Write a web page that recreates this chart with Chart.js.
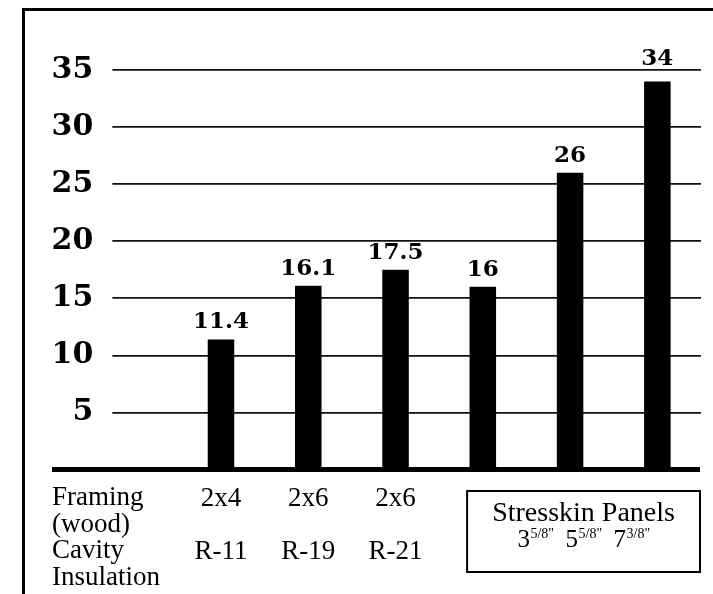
<!DOCTYPE html>
<html><head><meta charset="utf-8">
<script src="https://cdn.jsdelivr.net/npm/chart.js@4.4.0/dist/chart.umd.min.js"></script>
<style>
html,body{margin:0;padding:0;background:#fff;}
#wrap{position:relative;width:713px;height:594px;overflow:hidden;background:#fff;}
#frame{position:absolute;left:22px;top:8px;right:-10px;bottom:-10px;border-left:3px solid #000;border-top:3px solid #000;pointer-events:none;}
canvas{position:absolute;left:0;top:0;}
</style></head><body>
<div id="wrap"><canvas id="c" width="713" height="594"></canvas><div id="frame"></div></div>
<script>
const framing = ['2x4', '2x6', '2x6', '', '', ''];
const insulation = ['R-11', 'R-19', 'R-21', '', '', ''];
const values = [11.4, 16.1, 17.5, 16, 26, 34];
const yTicks = [0, 5, 10, 15, 20, 25, 30, 35];
const rowHeaders = ['Framing', '(wood)', 'Cavity', 'Insulation'];
const panelTitle = 'Stresskin Panels';
const panelSizes = [['3', '5/8"'], ['5', '5/8"'], ['7', '3/8"']];

const labels = framing.map((f, i) => [f, '', insulation[i]]);

const annot = {
  id: 'annot',
  afterDatasetsDraw(chart) {
    const { ctx, scales: { x, y } } = chart;
    const base = y.getPixelForValue(0);
    ctx.save();
    ctx.fillStyle = '#000';
    ctx.strokeStyle = '#000';
    // baseline
    ctx.fillRect(52, base - 2.5, x.right - 1 - 52, 5);
    // value labels
    const meta = chart.getDatasetMeta(0);
    const gridPx = yTicks.filter(v => v > 0).map(v => y.getPixelForValue(v));
    ctx.font = 'bold 23px "DejaVu Serif"';
    ctx.textAlign = 'center';
    ctx.textBaseline = 'alphabetic';
    meta.data.forEach((bar, i) => {
      let ly = bar.y - 11;
      gridPx.forEach(g => { if (ly >= g - 2 && ly <= g + 6) ly = g - 5; });
      ctx.fillText(String(values[i]), bar.x, ly);
    });
    // row headers
    ctx.font = '27px "Liberation Serif"';
    ctx.textAlign = 'left';
    rowHeaders.forEach((t, i) => ctx.fillText(t, 52, base + 35.5 + i * 26.5));
    // stresskin box
    const W = x.getPixelForValue(1) - x.getPixelForValue(0);
    const bl = x.getPixelForValue(3) - 0.18 * W, br = x.right - 1;
    const bt = base + 21.5, bb = base + 102.5;
    ctx.lineWidth = 2;
    ctx.strokeRect(bl, bt, br - bl, bb - bt);
    const cx = (bl + br) / 2;
    ctx.textAlign = 'center';
    ctx.font = '28px "Liberation Serif"';
    ctx.fillText(panelTitle, cx, base + 51);
    // sizes line
    const bigF = '25px "Liberation Serif"', supF = '14px "Liberation Serif"', gap = 12;
    let total = 0;
    const widths = panelSizes.map(([a, b]) => {
      ctx.font = bigF; const wa = ctx.measureText(a).width;
      ctx.font = supF; const wb = ctx.measureText(b).width;
      return [wa, wb];
    });
    widths.forEach(([wa, wb], i) => { total += wa + wb + (i ? gap : 0); });
    let px = cx - total / 2;
    ctx.textAlign = 'left';
    const by = base + 77;
    panelSizes.forEach(([a, b], i) => {
      ctx.font = bigF; ctx.fillText(a, px, by); px += widths[i][0];
      ctx.font = supF; ctx.fillText(b, px + 0.5, by - 9); px += widths[i][1] + gap;
    });
    ctx.restore();
  }
};

new Chart(document.getElementById('c'), {
  type: 'bar',
  data: {
    labels: labels,
    datasets: [{
      data: values,
      backgroundColor: '#000',
      borderWidth: 0,
      categoryPercentage: 1,
      barPercentage: 0.304
    }]
  },
  options: {
    responsive: false,
    animation: false,
    devicePixelRatio: 1,
    layout: { padding: { left: 52, right: 12, top: 70, bottom: 0 } },
    plugins: { legend: { display: false }, tooltip: { enabled: false } },
    scales: {
      x: {
        grid: { display: false },
        border: { display: false },
        ticks: {
          autoSkip: false, maxRotation: 0, minRotation: 0,
          color: '#000', padding: 8,
          font: { family: 'Liberation Serif', size: 27, lineHeight: 0.98 }
        },
        afterFit: s => { s.height = 124.5; }
      },
      y: {
        min: 0, max: 35,
        afterBuildTicks: s => { s.ticks = yTicks.map(v => ({ value: v })); },
        grid: {
          color: c => (c.tick && c.tick.value === 0) ? 'rgba(0,0,0,0)' : '#111',
          lineWidth: 1.7,
          drawTicks: true,
          tickLength: 65
        },
        border: { display: false },
        ticks: {
          color: '#000', padding: 19,
          font: { family: 'DejaVu Serif', weight: 'bold', size: 30 },
          callback: v => v === 0 ? '' : String(v)
        },
        afterFit: s => { s.width = 125.35; }
      }
    }
  },
  plugins: [annot]
});
</script>
</body></html>
